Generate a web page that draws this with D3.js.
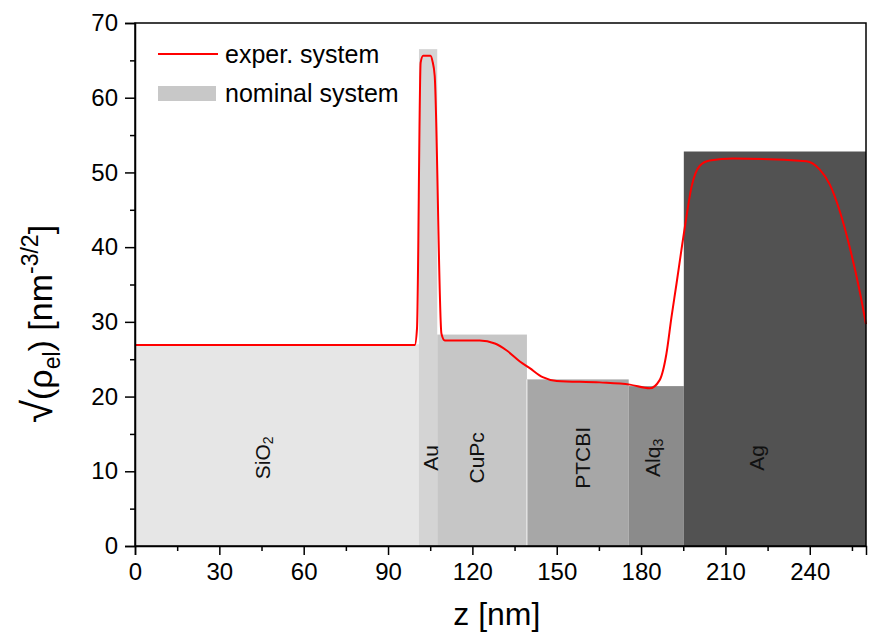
<!DOCTYPE html>
<html>
<head>
  <title>Density profile</title>
  <script src="https://d3js.org/d3.v7.min.js"></script>
  <style>
    body { margin: 0; background: #fff; }
    text { font-family: "Liberation Sans", Arial, sans-serif; }
  </style>
</head>
<body>
  <div id="chart"></div>
  <script>
    // nominal layers: name, start, end (nm), height
    const layerNames = ["SiO2", "Au", "CuPc", "PTCBI", "Alq3", "Ag"];
    const layerStart = [0, 101, 107.5, 139.4, 175.6, 195.2];
    const layerEnd = [101, 107.5, 139.4, 175.6, 195.2, 260];
    const layerHeight = [27, 66.5, 28.3, 22.3, 21.4, 52.8];
    const layerColors = ["#e6e6e6", "#d4d4d4", "#c6c6c6", "#a7a7a7", "#8b8b8b", "#525252"];
    const labelPos = [45, 105, 121.5, 159, 184, 221];

    // experimental profile
    const zVals = [0, 50, 99.5, 100.3, 101.6, 102.5, 105.1, 105.8, 106.6, 109, 110.2, 122.6, 128, 132.1,
      136.9, 140.4, 145, 150, 165.3, 176, 183.1, 186.6, 189, 190.8, 192.6, 194.3, 196.1, 197.9, 200.9,
      204.4, 212.7, 238.8, 243.5, 247.1, 250.6, 254.2, 257.7, 260];
    const rhoVals = [26.9, 26.9, 26.9, 29.1, 64.7, 65.6, 65.6, 64.9, 62.9, 28.4, 27.5, 27.5, 27.1, 26.2,
      24.7, 23.8, 22.6, 22.1, 21.9, 21.6, 21.1, 22.2, 25.7, 30.6, 35.1, 39.5, 44, 48, 50.9,
      51.6, 51.85, 51.5, 50.4, 48.4, 44.9, 40, 34.2, 29.7];

    const xTicks = [0, 30, 60, 90, 120, 150, 180, 210, 240];
    const yTicks = [0, 10, 20, 30, 40, 50, 60, 70];

    const W = 869, H = 633;
    const m = {left: 135, right: 3, top: 23, bottom: 87};

    const svg = d3.select("#chart").append("svg")
      .attr("width", W).attr("height", H);

    const x = d3.scaleLinear().domain([0, 260]).range([m.left, W - m.right]);
    const y = d3.scaleLinear().domain([0, 70]).range([H - m.bottom, m.top]);

    // layer blocks
    svg.append("g").selectAll("rect")
      .data(layerNames)
      .join("rect")
      .attr("x", (d, i) => x(layerStart[i]))
      .attr("width", (d, i) => x(layerEnd[i]) - x(layerStart[i]))
      .attr("y", (d, i) => y(layerHeight[i]))
      .attr("height", (d, i) => y(0) - y(layerHeight[i]))
      .attr("fill", (d, i) => layerColors[i]);

    // thin white seam between CuPc and PTCBI
    svg.append("line")
      .attr("x1", x(layerStart[3])).attr("x2", x(layerStart[3]))
      .attr("y1", y(layerHeight[3])).attr("y2", y(0))
      .attr("stroke", "#f4f4f4").attr("stroke-width", 1);

    // layer labels
    const labels = svg.append("g").selectAll("text")
      .data(layerNames)
      .join("text")
      .attr("transform", (d, i) => `translate(${x(labelPos[i])},${y(11.8)}) rotate(-90)`)
      .attr("text-anchor", "middle")
      .attr("dominant-baseline", "central")
      .attr("font-size", 21)
      .attr("fill", "#111");
    labels.each(function(d) {
      const t = d3.select(this);
      const m2 = d.match(/^(.*?)(\d)$/);
      if (m2) {
        t.append("tspan").text(m2[1]);
        t.append("tspan").text(m2[2]).attr("font-size", 14).attr("dy", 6);
      } else {
        t.text(d);
      }
    });

    // experimental curve
    const line = d3.line()
      .x((d, i) => x(zVals[i]))
      .y(d => y(d))
      .curve(d3.curveMonotoneX);
    svg.append("path")
      .attr("d", line(rhoVals))
      .attr("fill", "none")
      .attr("stroke", "#ff0000")
      .attr("stroke-width", 2);

    // frame
    svg.append("rect")
      .attr("x", m.left).attr("y", m.top)
      .attr("width", W - m.right - m.left).attr("height", H - m.bottom - m.top)
      .attr("fill", "none").attr("stroke", "#000").attr("stroke-width", 1.5);

    // x axis
    svg.append("g").attr("transform", `translate(0,${y(0)})`)
      .call(d3.axisBottom(x).tickValues(xTicks).tickSize(9).tickPadding(8).tickFormat(d3.format("d")));
    svg.append("g").attr("transform", `translate(0,${y(0)})`)
      .call(d3.axisBottom(x).tickValues(d3.range(15, 260, 30)).tickSize(5).tickFormat(""))
      .call(g => g.select(".domain").remove());

    // y axis
    svg.append("g").attr("transform", `translate(${m.left},0)`)
      .call(d3.axisLeft(y).tickValues(yTicks).tickSize(10).tickPadding(7));
    svg.append("g").attr("transform", `translate(${m.left},0)`)
      .call(d3.axisLeft(y).tickValues(d3.range(5, 70, 10)).tickSize(5).tickFormat(""))
      .call(g => g.select(".domain").remove());

    svg.selectAll(".tick line").attr("stroke", "#000").attr("stroke-width", 1.5);
    svg.selectAll(".domain").attr("stroke", "#000").attr("stroke-width", 1.5);
    svg.selectAll(".tick text").attr("font-size", 24).attr("fill", "#000")
      .attr("font-family", "'Liberation Sans', Arial, sans-serif");

    // axis titles
    svg.append("text")
      .attr("x", x(128.7)).attr("y", 625)
      .attr("text-anchor", "middle")
      .attr("font-size", 32)
      .text("z [nm]");

    const yt = svg.append("text")
      .attr("transform", `translate(52,324) rotate(-90)`)
      .attr("text-anchor", "middle")
      .attr("font-size", 34);
    yt.append("tspan").text("√").attr("font-size", 42);
    yt.append("tspan").text("(ρ");
    yt.append("tspan").text("el").attr("font-size", 23).attr("dy", 8);
    yt.append("tspan").text(") [nm").attr("dy", -8);
    yt.append("tspan").text("-3/2").attr("font-size", 23).attr("dy", -14);
    yt.append("tspan").text("]").attr("dy", 14);

    // legend
    const lg = svg.append("g");
    lg.append("line")
      .attr("x1", 158).attr("x2", 218).attr("y1", 54).attr("y2", 54)
      .attr("stroke", "#ff0000").attr("stroke-width", 2);
    lg.append("text").attr("x", 225).attr("y", 63).attr("font-size", 25).text("exper. system");
    lg.append("rect")
      .attr("x", 158).attr("y", 86).attr("width", 58).attr("height", 15)
      .attr("fill", "#c8c8c8");
    lg.append("text").attr("x", 225).attr("y", 102).attr("font-size", 25).text("nominal system");
  </script>
</body>
</html>
